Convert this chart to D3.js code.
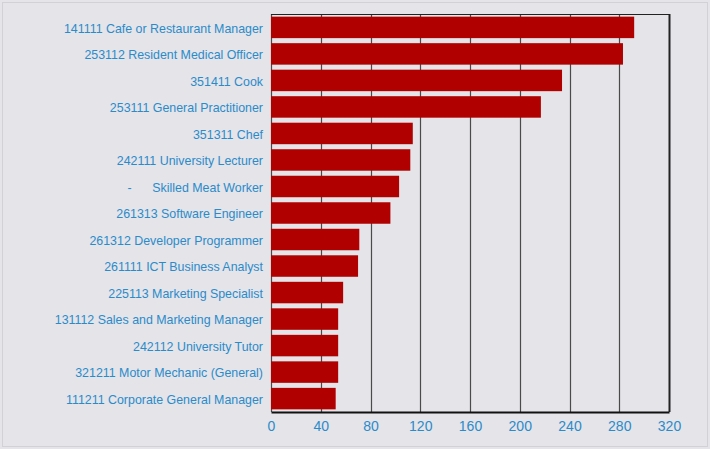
<!DOCTYPE html>
<html>
<head>
<meta charset="utf-8">
<script src="https://cdn.jsdelivr.net/npm/d3@7"></script>
<style>
  html, body { margin: 0; padding: 0; background: #e4e4e9; }
</style>
</head>
<body>
<div id="chart"></div>
<script>
const WIDTH = 710;
const HEIGHT = 449;
const MARGIN = { top: 14, right: 41, bottom: 37, left: 271 };

const occupations = [
  "141111 Cafe or Restaurant Manager",
  "253112 Resident Medical Officer",
  "351411 Cook",
  "253111 General Practitioner",
  "351311 Chef",
  "242111 University Lecturer",
  "-      Skilled Meat Worker",
  "261313 Software Engineer",
  "261312 Developer Programmer",
  "261111 ICT Business Analyst",
  "225113 Marketing Specialist",
  "131112 Sales and Marketing Manager",
  "242112 University Tutor",
  "321211 Motor Mechanic (General)",
  "111211 Corporate General Manager"
];
const counts = [292, 283, 234, 217, 114, 112, 103, 96, 71, 70, 58, 54, 54, 54, 52];
const xTicks = [0, 40, 80, 120, 160, 200, 240, 280, 320];

const innerW = WIDTH - MARGIN.left - MARGIN.right;
const innerH = HEIGHT - MARGIN.top - MARGIN.bottom;

const svg = d3.select("#chart").append("svg")
    .attr("width", WIDTH)
    .attr("height", HEIGHT)
    .style("display", "block");

// background with faint frame
svg.append("rect")
    .attr("width", WIDTH).attr("height", HEIGHT)
    .attr("fill", "#e4e4e9");
svg.append("rect")
    .attr("x", 2.5).attr("y", 2.5)
    .attr("width", WIDTH - 5).attr("height", HEIGHT - 5)
    .attr("fill", "none")
    .attr("stroke", "#d2d2d6");

const g = svg.append("g")
    .attr("transform", "translate(" + MARGIN.left + "," + MARGIN.top + ")");

const x = d3.scaleLinear().domain([0, 320]).range([0, innerW]);
const y = d3.scaleBand().domain(occupations).range([0, innerH]).paddingInner(0.19).paddingOuter(0.1);

// vertical grid lines
g.append("g")
  .selectAll("line")
  .data(xTicks)
  .join("line")
    .attr("x1", d => Math.round(x(d)) + 0.5)
    .attr("x2", d => Math.round(x(d)) + 0.5)
    .attr("y1", 0)
    .attr("y2", innerH)
    .attr("stroke", d => d === 320 ? "#222" : "#4a4a4a")
    .attr("stroke-width", d => d === 320 ? 2 : 1.2);

// bars
g.append("g")
  .selectAll("rect")
  .data(occupations)
  .join("rect")
    .attr("x", x(0))
    .attr("y", d => y(d))
    .attr("width", (d, i) => x(counts[i]) - x(0))
    .attr("height", y.bandwidth())
    .attr("fill", "#b00000");

// frame: top line
g.append("line")
    .attr("x1", 0).attr("x2", innerW)
    .attr("y1", 0.5).attr("y2", 0.5)
    .attr("stroke", "#222");

// X AXIS
const xAxis = g.append("g")
    .attr("transform", "translate(0," + innerH + ")")
    .call(d3.axisBottom(x).tickValues(xTicks).tickSize(0).tickPadding(9));
xAxis.select(".domain").attr("stroke", "#111").attr("stroke-width", 2);
xAxis.selectAll("text")
    .attr("fill", "#2b8bc9")
    .style("font-family", "Liberation Sans, Arial, sans-serif")
    .style("font-size", "14px");

// Y AXIS
const yAxis = g.append("g")
    .call(d3.axisLeft(y).tickSize(0).tickPadding(8));
yAxis.select(".domain").remove();
yAxis.selectAll("text")
    .attr("fill", "#2b8bc9")
    .attr("dy", "0.42em")
    .attr("xml:space", "preserve")
    .style("white-space", "pre")
    .style("font-family", "Liberation Sans, Arial, sans-serif")
    .style("font-size", "12.4px");
</script>
</body>
</html>
